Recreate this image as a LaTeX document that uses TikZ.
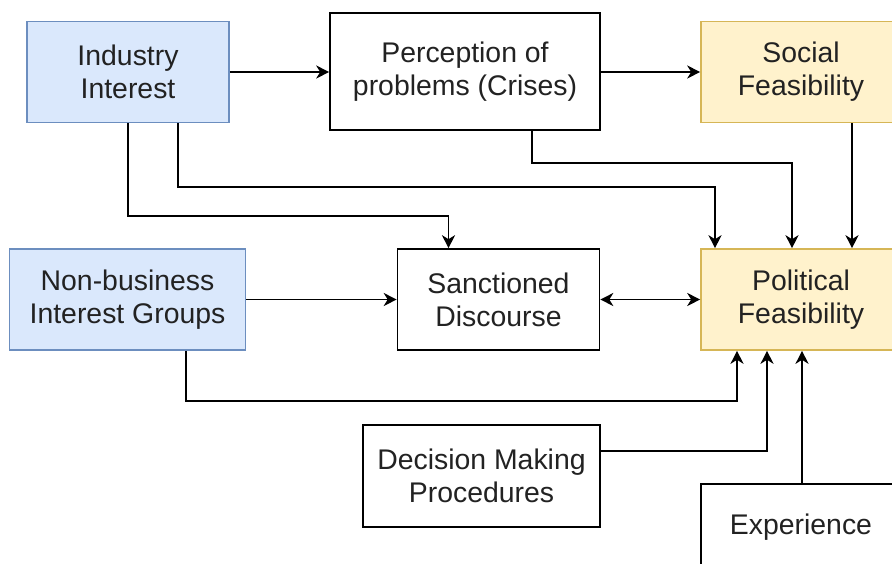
\documentclass[tikz,border=0pt]{standalone}
\usepackage{fontspec}
\setmainfont{Liberation Sans}
\usetikzlibrary{arrows.meta}
\definecolor{bluefill}{HTML}{DAE8FC}
\definecolor{blueline}{HTML}{6C8EBF}
\definecolor{yellowfill}{HTML}{FFF2CC}
\definecolor{yellowline}{HTML}{D6B656}
\definecolor{inktext}{HTML}{222222}

\begin{document}
\begin{tikzpicture}[x=1pt,y=-1pt,
  box/.style={draw=black, line width=1.6pt, fill=white, align=center,
    inner sep=0pt, text=inktext, font=\fontsize{28.4}{33}\selectfont},
  actor/.style={box, draw=blueline, fill=bluefill},
  feas/.style={box, draw=yellowline, fill=yellowfill},
  link/.style={draw=black, line width=1.8pt, -{Stealth[length=13pt,width=13pt,inset=4pt]}},
  both/.style={draw=black, line width=1.8pt,
    {Stealth[length=13pt,width=13pt,inset=4pt]}-{Stealth[length=13pt,width=13pt,inset=4pt]}},
]
\fill[white] (0,0) rectangle (892,563);
\useasboundingbox (0,0) rectangle (892,563);

% boxes
\node[actor, minimum width=202pt, minimum height=101pt] (ind) at (128,72) {Industry\\Interest};
\node[box,   minimum width=270pt, minimum height=117pt] (per) at (465,71.5) {Perception of\\problems (Crises)};
\node[feas,  minimum width=200pt, minimum height=101pt] (soc) at (801,72) {Social\\Feasibility};
\node[actor, minimum width=236pt, minimum height=101pt] (nbg) at (127.5,299.5) {Non-business\\Interest Groups};
\node[box,   minimum width=202pt, minimum height=101pt] (san) at (498.5,299.5) {Sanctioned\\Discourse};
\node[feas,  minimum width=200pt, minimum height=101pt] (pol) at (801,299.5) {Political\\Feasibility};
\node[box,   minimum width=237pt, minimum height=102pt] (dec) at (481.5,476) {Decision Making\\Procedures};
\node[box,   minimum width=200pt, minimum height=86pt]  (exp) at (801,527) {Experience};

% connectors
\draw[link] (ind.east) -- (ind.east -| per.west);
\draw[link] (ind.east -| per.east) -- (ind.east -| soc.west);
\draw[link] (ind.south) -- ++(0,93) -| ([xshift=-50pt]san.north);
\draw[link] ([xshift=50pt]ind.south) -- ++(0,64) -| ([xshift=-86pt]pol.north);
\draw[link] ([xshift=67pt]per.south) -- ++(0,32) -| ([xshift=-9pt]pol.north);
\draw[link] ([xshift=51pt]soc.south) -- ([xshift=51pt]pol.north);
\draw[link] (nbg.east) -- (nbg.east -| san.west);
\draw[both] (san.east) -- (pol.west);
\draw[link] ([xshift=58.5pt]nbg.south) -- ++(0,50.5) -| ([xshift=-64pt]pol.south);
\draw[link] ([yshift=25pt]dec.east) -| ([xshift=-34pt]pol.south);
\draw[link] ([xshift=1pt]exp.north) -- ([xshift=1pt]pol.south);
\end{tikzpicture}
\end{document}
